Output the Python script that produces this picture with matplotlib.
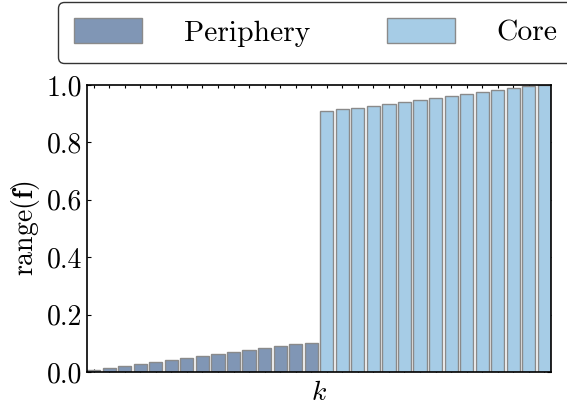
import matplotlib
matplotlib.use("Agg")
import matplotlib.pyplot as plt
import numpy as np

periphery = [0.008, 0.015, 0.022, 0.029, 0.035, 0.042, 0.049, 0.056, 0.063,
             0.069, 0.076, 0.082, 0.089, 0.096, 0.101]
core = [0.908, 0.915, 0.921, 0.928, 0.935, 0.942, 0.949, 0.955, 0.962,
        0.968, 0.975, 0.982, 0.988, 0.995, 1.0]
labels = ["Periphery", "Core"]
yticks = [0.0, 0.2, 0.4, 0.6, 0.8, 1.0]

plt.rcParams["font.family"] = "serif"
plt.rcParams["font.serif"] = ["cmr10"]
plt.rcParams["mathtext.fontset"] = "cm"
plt.rcParams["axes.formatter.use_mathtext"] = True

fig = plt.figure(figsize=(5.67, 4.08), dpi=100)
ax = fig.add_axes([87/567, 1-372/408, (551-87)/567, (372-85)/408])

w = 0.85
xp = np.arange(len(periphery))
xc = np.arange(len(periphery), len(periphery) + len(core))
b1 = ax.bar(xp, periphery, width=w, color="#8096B5", edgecolor="#8a8a8a", linewidth=1.0, label=labels[0], zorder=3)
b2 = ax.bar(xc, core, width=w, color="#A6CCE6", edgecolor="#8a8a8a", linewidth=1.0, label=labels[1], zorder=3)

ax.set_xlim(-w/2, len(periphery) + len(core) - 1 + w/2)
ax.set_ylim(0, 1.0)
ax.set_xticks(np.concatenate([xp, xc]))
ax.set_xticklabels([])
ax.set_yticks(yticks)
ax.set_yticklabels(["%.1f" % t for t in yticks])
ax.tick_params(axis="both", direction="in", length=3, width=0.8, top=True, right=True, labelsize=20)
ax.tick_params(axis="x", length=2)
for s in ax.spines.values():
    s.set_linewidth(1.2)
    s.set_zorder(4)

ax.set_ylabel(r"$\mathrm{range}(\mathbf{f})$", fontsize=20, labelpad=3)
ax.set_xlabel(r"$k$", fontsize=20, labelpad=2)

leg = fig.legend(handles=[b1, b2], labels=labels, loc="upper left",
                 bbox_to_anchor=(58/567, 1-2/408), borderaxespad=0,
                 ncol=2, fontsize=21.3,
                 handlelength=2.3, handleheight=0.9, columnspacing=2.6,
                 handletextpad=1.4, borderpad=0.55, frameon=True, fancybox=True)
leg.get_frame().set_edgecolor("black")
leg.get_frame().set_linewidth(1.0)

fig.savefig("out.png", dpi=100)
